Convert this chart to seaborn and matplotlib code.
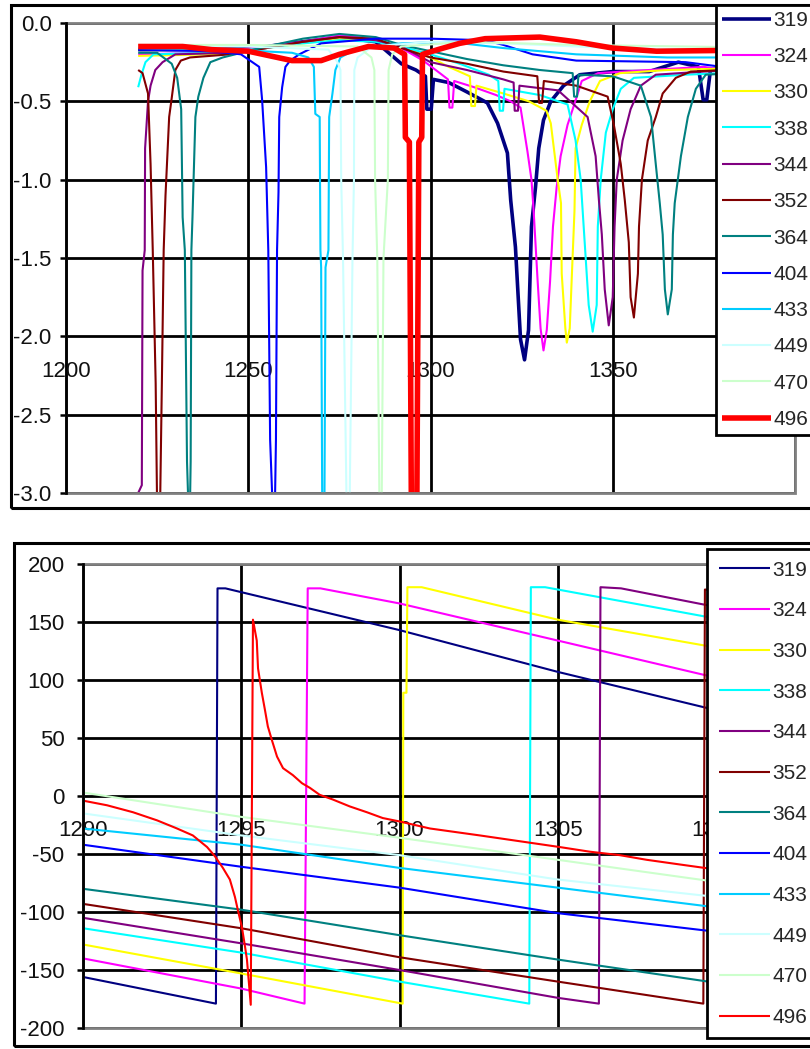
import matplotlib
matplotlib.use("Agg")
import matplotlib.pyplot as plt
import seaborn as sns
import pandas as pd
from matplotlib.patches import Rectangle

# ---------------- data ----------------
SERIES = ["319", "324", "330", "338", "344", "352", "364", "404", "433", "449", "470", "496"]
COLORS = ["#000080", "#FF00FF", "#FFFF00", "#00FFFF", "#800080", "#800000",
          "#008080", "#0000FF", "#00CCFF", "#CCFFFF", "#CCFFCC", "#FF0000"]

# top chart: (wavelength, transmission dB)
T319 = [(1219.8,-0.17),(1240,-0.17),(1255,-0.15),(1265,-0.12),(1275,-0.09),(1285,-0.12),(1289,-0.20),
        (1292,-0.26),(1296,-0.30),(1298.6,-0.34),(1299.0,-0.55),(1300.2,-0.55),(1300.8,-0.36),(1305,-0.38),
        (1310,-0.44),(1315.6,-0.51),(1318.4,-0.64),(1321.1,-0.83),(1322.0,-1.13),(1323.3,-1.43),(1324.7,-2.02),
        (1325.8,-2.15),(1326.9,-1.96),(1327.7,-1.30),(1328.8,-1.05),(1329.7,-0.80),(1331.0,-0.62),(1333.0,-0.50),
        (1336.5,-0.40),(1341,-0.33),(1350,-0.31),(1360,-0.31),(1368,-0.25),(1373.5,-0.28),(1374.8,-0.49),
        (1375.8,-0.49),(1376.8,-0.30),(1385,-0.26),(1400,-0.24)]
T324 = [(1219.8,-0.20),(1240,-0.19),(1255,-0.15),(1265,-0.12),(1275,-0.08),(1285,-0.10),(1292,-0.16),
        (1298,-0.24),(1302,-0.31),(1304.8,-0.36),(1305.2,-0.54),(1306.0,-0.54),(1306.5,-0.37),(1312,-0.41),
        (1318,-0.46),(1322,-0.50),(1324.7,-0.54),(1326.6,-0.82),(1327.7,-1.0),(1328.3,-1.2),(1329.4,-1.65),
        (1330.2,-1.95),(1331.0,-2.09),(1331.9,-1.96),(1332.8,-1.65),(1333.6,-1.30),(1334.6,-1.05),(1335.7,-0.85),
        (1337.6,-0.65),(1339.3,-0.53),(1341.5,-0.37),(1346,-0.32),(1360,-0.30),(1375,-0.28),(1380.6,-0.30),
        (1381.0,-0.54),(1381.9,-0.54),(1382.4,-0.30),(1400,-0.26)]
T330 = [(1219.8,-0.21),(1240,-0.20),(1255,-0.16),(1265,-0.13),(1275,-0.10),(1285,-0.11),(1292,-0.15),
        (1300,-0.22),(1305,-0.28),(1310.8,-0.34),(1311.2,-0.53),(1312.2,-0.53),(1312.6,-0.40),(1320,-0.45),
        (1327,-0.50),(1331.8,-0.56),(1333.0,-0.64),(1334.9,-1.0),(1335.8,-1.15),(1336.0,-1.6),(1337.0,-1.95),
        (1337.4,-2.04),(1338.2,-1.95),(1338.8,-1.6),(1339.5,-1.2),(1339.8,-0.80),(1341.5,-0.65),(1343.7,-0.50),
        (1346.5,-0.37),(1352,-0.32),(1365,-0.30),(1400,-0.28)]
T338 = [(1219.8,-0.41),(1220.7,-0.33),(1221.8,-0.25),(1224,-0.20),(1240,-0.19),(1255,-0.16),(1265,-0.13),
        (1275,-0.11),(1285,-0.12),(1292,-0.15),(1300,-0.20),(1308,-0.26),(1316,-0.33),(1318.6,-0.37),
        (1319.0,-0.56),(1319.9,-0.56),(1320.3,-0.42),(1330,-0.46),(1337.6,-0.52),(1339.8,-0.75),(1341.2,-1.0),
        (1342.3,-1.4),(1343.4,-1.8),(1344.5,-1.97),(1345.6,-1.8),(1345.9,-1.3),(1346.7,-1.0),(1348.1,-0.70),
        (1350.0,-0.55),(1352.2,-0.42),(1355.8,-0.35),(1370,-0.33),(1400,-0.30)]
T344 = [(1219.8,-3.0),(1220.8,-2.95),(1221.0,-1.58),(1221.6,-1.45),(1221.7,-0.80),(1222.5,-0.50),
        (1223.2,-0.40),(1224.5,-0.30),(1226.5,-0.25),(1230,-0.20),(1245,-0.19),(1255,-0.16),(1265,-0.12),
        (1275,-0.09),(1285,-0.11),(1292,-0.15),(1300,-0.25),(1310,-0.30),(1320,-0.36),(1322.8,-0.38),
        (1323.1,-0.56),(1324.0,-0.56),(1324.4,-0.40),(1335,-0.43),(1343.1,-0.60),(1345.3,-0.85),(1346.2,-1.13),
        (1347.0,-1.35),(1347.8,-1.70),(1348.9,-1.93),(1350.0,-1.75),(1350.5,-1.30),(1351.1,-1.0),(1352.7,-0.75),
        (1354.9,-0.55),(1357.7,-0.40),(1361.8,-0.33),(1375,-0.31),(1400,-0.28)]
T352 = [(1219.8,-0.30),(1221,-0.32),(1222.5,-0.45),(1223.2,-0.90),(1223.8,-1.45),(1224.6,-2.3),(1225.0,-3.1),
        (1225.8,-3.1),(1226.3,-2.3),(1226.8,-1.45),(1227.3,-1.10),(1228.3,-0.60),(1229,-0.48),(1230,-0.30),
        (1231.5,-0.24),(1234,-0.22),(1245,-0.20),(1255,-0.16),(1265,-0.12),(1275,-0.09),(1285,-0.10),
        (1292,-0.16),(1300,-0.22),(1310,-0.26),(1320,-0.31),(1329.3,-0.34),(1329.8,-0.51),(1330.6,-0.51),
        (1331.1,-0.37),(1340,-0.40),(1348.6,-0.47),(1350.3,-0.65),(1352.2,-0.90),(1353.3,-1.13),(1354.4,-1.40),
        (1354.9,-1.75),(1355.8,-1.88),(1356.9,-1.60),(1357.2,-1.30),(1358.0,-1.0),(1359.6,-0.75),(1361.8,-0.60),
        (1363.7,-0.45),(1367.3,-0.35),(1371.4,-0.31),(1400,-0.28)]
T364 = [(1219.8,-0.19),(1225,-0.19),(1229,-0.26),(1230.5,-0.35),(1231.6,-0.55),(1232.0,-1.24),(1232.6,-1.45),
        (1233.2,-2.8),(1233.6,-3.1),(1234.0,-3.1),(1234.2,-2.8),(1234.4,-1.45),(1234.7,-1.24),(1235.5,-0.60),
        (1236.3,-0.47),(1237.7,-0.35),(1239.6,-0.25),(1243,-0.22),(1255,-0.15),(1265,-0.10),(1275,-0.07),
        (1285,-0.09),(1292,-0.14),(1300,-0.18),(1310,-0.23),(1320,-0.27),(1330,-0.30),(1339.0,-0.32),
        (1339.4,-0.47),(1340.2,-0.47),(1340.6,-0.33),(1350,-0.34),(1357.7,-0.40),(1360.5,-0.60),(1361.8,-0.90),
        (1362.9,-1.15),(1363.7,-1.35),(1364.3,-1.70),(1365.1,-1.86),(1366.2,-1.70),(1366.5,-1.35),(1367.0,-1.15),
        (1368.7,-0.85),(1370.6,-0.60),(1372.8,-0.42),(1375.5,-0.33),(1400,-0.30)]
T404 = [(1219.8,-0.17),(1240,-0.18),(1248,-0.20),(1250.5,-0.24),(1253.0,-0.28),(1253.8,-0.49),(1254.9,-0.92),
        (1255.5,-1.45),(1256.0,-2.66),(1256.7,-3.1),(1257.3,-3.1),(1257.6,-2.66),(1257.9,-1.45),(1258.3,-1.08),
        (1258.5,-0.60),(1259.3,-0.41),(1260.2,-0.28),(1261.5,-0.24),(1264,-0.20),(1270,-0.13),(1285,-0.10),
        (1300,-0.10),(1315,-0.11),(1320,-0.14),(1328,-0.20),(1340,-0.24),(1370,-0.25),(1380,-0.28),(1400,-0.27)]
T433 = [(1219.8,-0.16),(1245,-0.17),(1262,-0.19),(1266.5,-0.22),(1268.0,-0.28),(1268.4,-0.58),(1269.6,-0.60),
        (1269.8,-1.45),(1270.0,-1.56),(1270.3,-3.1),(1270.9,-3.1),(1271.2,-1.56),(1272.0,-1.45),(1272.2,-0.60),
        (1273.1,-0.45),(1273.9,-0.30),(1275.3,-0.22),(1280,-0.16),(1292,-0.13),(1305,-0.12),(1320,-0.16),
        (1340,-0.20),(1365,-0.22),(1400,-0.22)]
T449 = [(1219.8,-0.15),(1250,-0.15),(1272,-0.17),(1274.5,-0.25),(1275.3,-0.30),(1275.5,-1.0),(1276.0,-1.5),
        (1277.0,-3.1),(1277.8,-3.1),(1278.6,-1.5),(1279.0,-1.0),(1279.1,-0.30),(1280,-0.22),(1284,-0.15),
        (1300,-0.12),(1320,-0.13),(1350,-0.16),(1400,-0.18)]
T470 = [(1219.8,-0.14),(1250,-0.14),(1280,-0.15),(1283.8,-0.22),(1284.6,-0.30),(1284.8,-1.0),(1285.4,-1.5),
        (1286.0,-3.1),(1286.6,-3.1),(1287.1,-1.5),(1288.3,-1.0),(1288.5,-0.30),(1289.5,-0.20),(1292,-0.15),
        (1310,-0.12),(1340,-0.14),(1400,-0.16)]
T496 = [(1219.8,-0.15),(1232,-0.15),(1240,-0.17),(1250,-0.18),(1256,-0.21),(1262,-0.24),(1270,-0.24),
        (1275,-0.20),(1283,-0.15),(1290,-0.16),(1292.9,-0.20),(1293.1,-0.73),(1294.2,-0.76),(1294.8,-3.3),
        (1296.2,-3.3),(1296.8,-0.76),(1297.6,-0.73),(1297.8,-0.20),(1302,-0.17),(1308,-0.13),(1315,-0.10),
        (1330,-0.09),(1340,-0.12),(1350,-0.16),(1362,-0.18),(1400,-0.17)]

# bottom chart: (wavelength, phase deg)
B319 = [(1290,-156),(1294.2,-179),(1294.25,179),(1294.5,179),(1300,143),(1305,107),(1310,74)]
B324 = [(1290,-140),(1295,-166),(1297.0,-179),(1297.1,179),(1297.5,179),(1300,166),(1305,134),(1310,102)]
B330 = [(1290,-128),(1295,-153),(1300.1,-179),(1300.12,89),(1300.22,89),(1300.25,180),(1300.7,180),
        (1305,152),(1310,128)]
B338 = [(1290,-114),(1295,-135),(1300,-160),(1304.1,-179),(1304.15,180),(1304.6,180),(1310,153)]
B344 = [(1290,-105),(1295,-127),(1300,-150),(1305,-174),(1306.3,-179),(1306.35,180),(1307,179),(1310,163)]
B352 = [(1290,-93),(1295,-114),(1300,-139),(1305,-160),(1309.6,-179),(1309.65,178),(1310,177)]
B364 = [(1290,-80),(1295,-98),(1300,-120),(1305,-141),(1310,-161)]
B404 = [(1290,-42),(1295,-61),(1300,-79),(1305,-101),(1310,-117)]
B433 = [(1290,-28),(1295,-42),(1300,-62),(1305,-79),(1310,-96)]
B449 = [(1290,-15),(1295,-34),(1300,-51),(1305,-72),(1310,-87)]
B470 = [(1290,3),(1295,-18),(1300,-36),(1305,-55),(1310,-74)]
B496 = [(1290.0,-4),(1290.76,-8),(1291.58,-14),(1292.34,-21),(1292.97,-28),(1293.47,-34),(1293.92,-44),
        (1294.17,-52),(1294.42,-62),(1294.64,-72),(1294.80,-87),(1294.89,-98),(1295.02,-113),(1295.12,-130),
        (1295.18,-141),(1295.30,-180),(1295.37,152),(1295.49,134),(1295.53,110),(1295.65,89),(1295.75,74),
        (1295.84,60),(1295.97,48),(1296.13,34),(1296.32,24),(1296.63,18),(1296.92,11),(1297.17,7),
        (1297.48,1),(1297.89,-3),(1298.43,-9),(1298.97,-14),(1299.47,-19),(1300.01,-22),(1300.96,-28),
        (1302.54,-34),(1303.80,-39),(1305.06,-44),(1306.01,-48),(1306.96,-51),(1307.81,-55),(1308.85,-59),
        (1309.64,-62),(1310,-63)]

TOP_DATA = [T319, T324, T330, T338, T344, T352, T364, T404, T433, T449, T470, T496]
BOT_DATA = [B319, B324, B330, B338, B344, B352, B364, B404, B433, B449, B470, B496]
TOP_LW = [2.6, 1.5, 1.5, 1.5, 1.5, 1.5, 1.5, 1.5, 1.5, 1.5, 1.5, 4.0]
BOT_LW = [1.5] * 12

TOP_XTICKS = [1200, 1250, 1300, 1350, 1400]
TOP_XLABELS = ["1200", "1250", "1300", "1350", ""]   # 1400 hidden under the legend
TOP_YTICKS = [0.0, -0.5, -1.0, -1.5, -2.0, -2.5, -3.0]
TOP_YLABELS = ["0.0", "-0.5", "-1.0", "-1.5", "-2.0", "-2.5", "-3.0"]
BOT_XTICKS = [1290, 1295, 1300, 1305, 1310]
BOT_XLABELS = ["1290", "1295", "1300", "1305", "1310"]
BOT_YTICKS = [200, 150, 100, 50, 0, -50, -100, -150, -200]
BOT_YLABELS = ["200", "150", "100", "50", "0", "-50", "-100", "-150", "-200"]

# ---------------- figure ----------------
sns.set_style("white")
plt.rcParams["font.family"] = ["Liberation Sans", "DejaVu Sans"]
plt.rcParams["lines.solid_capstyle"] = "butt"

W, H = 810, 1049
FS = 16       # tick labels
LFS = 15      # legend labels
fig = plt.figure(figsize=(W / 100, H / 100), dpi=100)


def fr(x0, y0, x1, y1):
    return [x0 / W, 1 - y1 / H, (x1 - x0) / W, (y1 - y0) / H]


ax1 = fig.add_axes(fr(66, 23, 795, 493))
ax2 = fig.add_axes(fr(83, 564, 716, 1028))

# chart-area frames
fig.add_artist(Rectangle((11 / W, 1 - 508 / H), 2.0, 503 / H, transform=fig.transFigure,
                         fill=False, ec="black", lw=2.2))
fig.add_artist(Rectangle((14 / W, 1 - 1046 / H), 2.0, 503 / H, transform=fig.transFigure,
                         fill=False, ec="black", lw=2.2))


def draw(ax, datasets, lws):
    for name, pts, col, lw in zip(SERIES, datasets, COLORS, lws):
        df = pd.DataFrame(pts, columns=["wl", "val"])
        sns.lineplot(data=df, x="wl", y="val", ax=ax, color=col, linewidth=lw,
                     sort=False, estimator=None, label=name)
    lg = ax.get_legend()
    if lg is not None:
        lg.remove()


def style(ax, xlim, ylim, xt, xl, yt, yl, cross, ypad, xpad):
    ax.set_xlim(*xlim)
    ax.set_ylim(*ylim)
    ax.set_xticks(xt)
    ax.set_xticklabels(xl)
    ax.set_yticks(yt)
    ax.set_yticklabels(yl)
    ax.set_xlabel("")
    ax.set_ylabel("")
    ax.grid(True, color="black", lw=2.0)
    ax.set_axisbelow(True)
    for s in ("top", "right"):
        ax.spines[s].set_visible(False)
    ax.spines["bottom"].set_position(("data", cross))
    ax.spines["bottom"].set_visible(False)
    ax.spines["left"].set_visible(True)
    ax.spines["left"].set_color("black")
    ax.spines["left"].set_linewidth(2.0)
    ax.spines["left"].set_zorder(2.6)
    ax.add_patch(Rectangle((0, 0), 1, 1, transform=ax.transAxes, fill=False,
                           ec="#808080", lw=2.0, zorder=2.4, clip_on=False))
    ax.tick_params(axis="y", left=True, direction="out", length=4.3, width=1.8,
                   color="black", pad=ypad, labelsize=FS, labelcolor="#111111")
    ax.tick_params(axis="x", bottom=True, length=0, pad=xpad, labelsize=FS,
                   labelcolor="#111111")


draw(ax1, TOP_DATA, TOP_LW)
draw(ax2, BOT_DATA, BOT_LW)
style(ax1, (1200, 1400), (-3.0, 0.0), TOP_XTICKS, TOP_XLABELS, TOP_YTICKS, TOP_YLABELS, -2.0, 6, 18)
style(ax2, (1290, 1310), (-200, 200), BOT_XTICKS, BOT_XLABELS, BOT_YTICKS, BOT_YLABELS, 0, 9, 17)

# legends (drawn over the plot areas, running to the right edge)
h1, l1 = ax1.get_legend_handles_labels()
leg1 = fig.legend(h1, l1, loc="upper left", bbox_to_anchor=(716 / W, 1 - 5 / H), borderaxespad=0,
                  frameon=True, fancybox=False, framealpha=1, facecolor="white", edgecolor="black",
                  fontsize=LFS, handlelength=2.35, handletextpad=0.12, labelspacing=0.83, borderpad=0.28)
leg1.get_frame().set_linewidth(2.0)

h2, l2 = ax2.get_legend_handles_labels()
leg2 = fig.legend(h2, l2, loc="upper left", bbox_to_anchor=(707 / W, 1 - 549 / H), borderaxespad=0,
                  frameon=True, fancybox=False, framealpha=1, facecolor="white", edgecolor="black",
                  fontsize=LFS, handlelength=2.45, handletextpad=0.15, labelspacing=1.04, borderpad=0.555)
leg2.get_frame().set_linewidth(2.0)

fig.savefig("out.png", dpi=100)
